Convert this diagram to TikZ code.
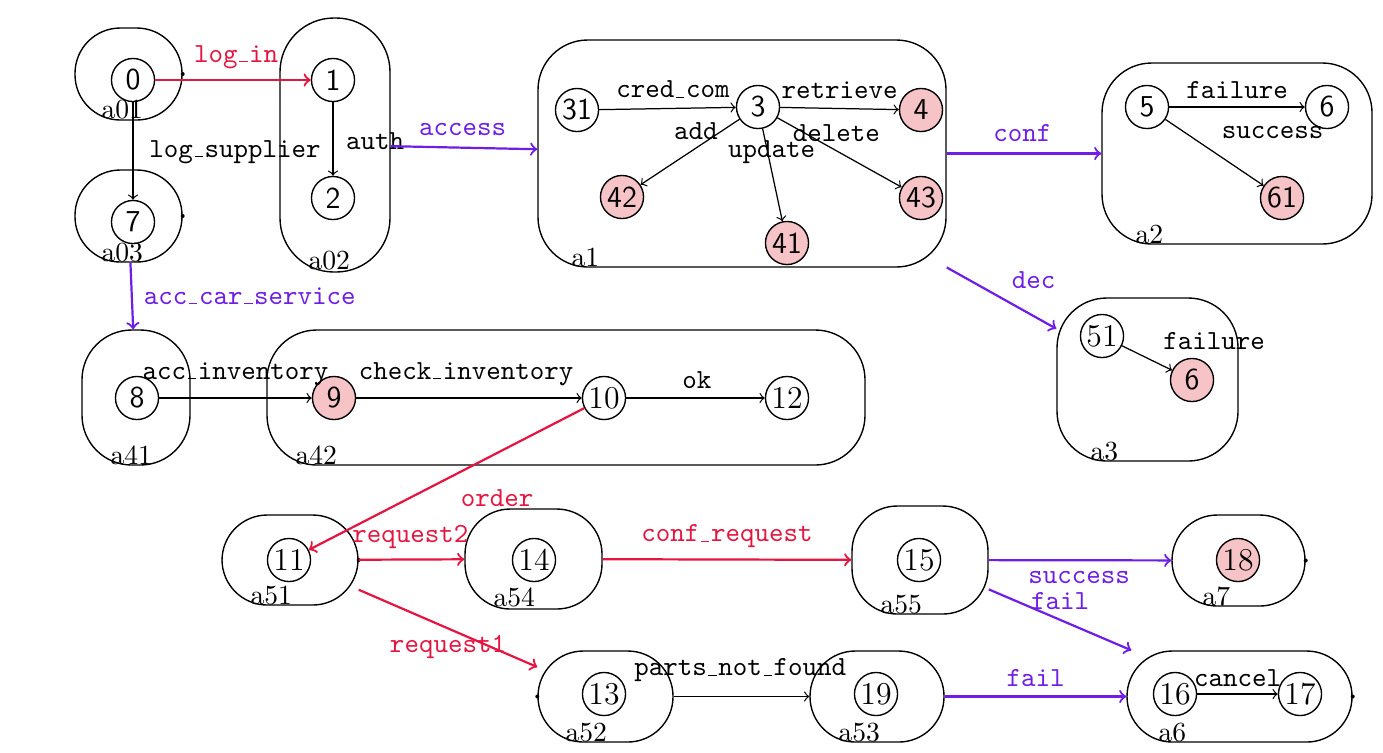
\documentclass[tikz,border=0pt]{standalone}
\usetikzlibrary{fit}
\definecolor{flowred}{RGB}{228,22,65}
\definecolor{flowpurple}{RGB}{110,30,230}
\definecolor{finalfill}{RGB}{246,196,198}
% short baseline rule used as the underscore in transition names
\newcommand\ulbar{\leavevmode\kern.06em\vbox{\hrule width.3em}\kern.06em}
\begin{document}
\begin{tikzpicture}[x=0.362pt,y=-0.362pt,
  st/.style={circle,draw,line width=0.5pt,minimum size=15.6pt,inner sep=0pt,
    font=\sffamily\fontsize{11}{13}\selectfont},
  rst/.style={st,font=\rmfamily\fontsize{11.5}{13}\selectfont},
  fin/.style={st,fill=finalfill},
  rfin/.style={rst,fill=finalfill},
  region/.style={draw,line width=0.5pt,rounded corners=16.4pt,inner sep=0pt},
  bigregion/.style={region,rounded corners=18pt},
  rlabel/.style={anchor=base west,inner sep=0pt,font=\rmfamily},
  elabel/.style={font=\ttfamily,inner sep=0pt},
  tr/.style={->,line width=0.45pt},
  redtr/.style={->,color=flowred,line width=0.8pt},
  purtr/.style={->,color=flowpurple,line width=0.8pt}]

\fill[white] (0,0) rectangle (1383,752);
\useasboundingbox (0,0) rectangle (1383,752);

% regions
\node[region,fit={(75,28) (182,120)}] (a01) {};
\node[region,rounded corners=19.5pt,fit={(280,18) (390,272)}] (a02) {};
\node[region,fit={(75,170) (182,262)}] (a03) {};
\node[bigregion,fit={(538,40) (946,267)}] (a1) {};
\node[bigregion,fit={(1102,63) (1372,244)}] (a2) {};
\node[bigregion,fit={(1057,298) (1238,461)}] (a3) {};
\node[region,rounded corners=18pt,fit={(82,330) (190,465)}] (a41) {};
\node[bigregion,fit={(267,330) (865,465)}] (a42) {};
\node[region,fit={(222,515) (358,605)}] (a51) {};
\node[region,fit={(465,509) (602,609)}] (a54) {};
\node[region,fit={(852,506) (988,614)}] (a55) {};
\node[region,fit={(1172,515) (1305,606)}] (a7) {};
\node[region,fit={(538,651) (673,742)}] (a52) {};
\node[region,fit={(810,651) (944,742)}] (a53) {};
\node[region,fit={(1127,651) (1352,742)}] (a6) {};

% region names
\node[rlabel] (la01) at (101,118) {a01};
\node[rlabel] (la02) at (308,269) {a02};
\node[rlabel] (la03) at (101,261) {a03};
\node[rlabel] (la1) at (571,266) {a1};
\node[rlabel] (la2) at (1135,243) {a2};
\node[rlabel] (la3) at (1090,460) {a3};
\node[rlabel] (la41) at (110,464) {a41};
\node[rlabel] (la42) at (295,464) {a42};
\node[rlabel] (la51) at (250,604) {a51};
\node[rlabel] (la54) at (493,606) {a54};
\node[rlabel] (la55) at (880,613) {a55};
\node[rlabel] (la7) at (1202,605) {a7};
\node[rlabel] (la52) at (565,741) {a52};
\node[rlabel] (la53) at (838,741) {a53};
\node[rlabel] (la6) at (1158,741) {a6};

% small marks on region borders
\foreach \r in {a01,a03,a51,a7,a6}{\fill (\r.east) circle[radius=2];}
\fill (a52.west) circle[radius=2];

% states
\node[st] (s0) at (133,80) {0};
\node[st] (s1) at (333,80) {1};
\node[st] (s2) at (333,198) {2};
\node[st] (s7) at (133,222) {7};
\node[st] (s31) at (577,110) {31};
\node[st] (s3) at (758,107) {3};
\node[fin] (s4) at (921,110) {4};
\node[fin] (s42) at (622,197) {42};
\node[fin] (s41) at (787,243) {41};
\node[fin] (s43) at (921,198) {43};
\node[st] (s5) at (1147,107) {5};
\node[st] (s6) at (1327,107) {6};
\node[fin] (s61) at (1282,198) {61};
\node[rst] (s51) at (1102,336) {51};
\node[fin] (s6b) at (1192,380) {6};
\node[st] (s8) at (137,398) {8};
\node[fin] (s9) at (334,398) {9};
\node[rst] (s10) at (604,398) {10};
\node[rst] (s12) at (787,398) {12};
\node[rst] (s11) at (289,560) {11};
\node[rst] (s14) at (534,560) {14};
\node[rst] (s15) at (919,560) {15};
\node[rfin] (s18) at (1238,560) {18};
\node[rst] (s13) at (604,694) {13};
\node[rst] (s19) at (876,694) {19};
\node[rst] (s16) at (1175,694) {16};
\node[rst] (s17) at (1300,694) {17};

% transitions
\draw[redtr] (s0) -- node[elabel,pos=0.52,shift={(0,-23)}]{log\ulbar in} (s1);
\draw[tr] (s0) -- node[elabel,pos=0.51,shift={(102,0)}]{log\ulbar supplier} (s7);
\draw[tr] (s1) -- node[elabel,pos=0.53,shift={(42,0)}]{auth} (s2);
\draw[purtr] (a02) -- node[elabel,pos=0.49,shift={(0,-18)}]{access} (a1);
\draw[tr] (s31) -- node[elabel,pos=0.54,shift={(0,-19)}]{cred\ulbar com} (s3);
\draw[tr] (s3) -- node[elabel,pos=0.5,shift={(0,-18)}]{retrieve} (s4);
\draw[tr] (s3) -- node[elabel,pos=0.44,shift={(0,-17)}]{add} (s42);
\draw[tr] (s3) -- node[elabel,pos=0.25,shift={(4,0)}]{update} (s41);
\draw[tr] (s3) -- node[elabel,pos=0.45,shift={(3,-16)}]{delete} (s43);
\draw[purtr] (a1) -- node[elabel,pos=0.49,shift={(0,-20)}]{conf} (a2);
\draw[purtr] (a1) -- node[elabel,pos=0.5,shift={(32,-18)}]{dec} (a3);
\draw[tr] (s5) -- node[elabel,pos=0.5,shift={(0,-17)}]{failure} (s6);
\draw[tr] (s5) -- node[elabel,pos=0.5,shift={(58,-20)}]{success} (s61);
\draw[tr] (s51) -- node[elabel,pos=0.5,shift={(67,-17)}]{failure} (s6b);
\draw[purtr] (a03) -- node[elabel,pos=0.5,shift={(118,0)}]{acc\ulbar car\ulbar service} (a41);
\draw[tr] (s8) -- node[elabel,pos=0.5,shift={(0,-24)}]{acc\ulbar inventory} (s9);
\draw[tr] (s9) -- node[elabel,pos=0.487,shift={(0,-24)}]{check\ulbar inventory} (s10);
\draw[tr] (s10) -- node[elabel,pos=0.51,shift={(0,-18)}]{ok} (s12);
\draw[redtr] (s10) -- node[elabel,pos=0.316,shift={(0,45)}]{order} (s11);
\draw[redtr] (a51) -- node[elabel,pos=0.49,shift={(0,-23)}]{request2} (a54);
\draw[redtr] (a51) -- node[elabel,pos=0.5,shift={(0,19)}]{request1} (a52);
\draw[redtr] (a54) -- node[elabel,pos=0.5,shift={(0,-23)}]{conf\ulbar request} (a55);
\draw[purtr] (a55) -- node[elabel,pos=0.495,shift={(0,17)}]{success} (a7);
\draw[purtr] (a55) -- node[elabel,pos=0.5,shift={(0,-19)}]{fail} (a6);
\draw[tr] (a52) -- node[elabel,pos=0.49,shift={(0,-26)}]{parts\ulbar not\ulbar found} (a53);
\draw[purtr] (a53) -- node[elabel,pos=0.5,shift={(0,-18)}]{fail} (a6);
\draw[tr] (s16) -- node[elabel,pos=0.5,shift={(0,-16)}]{cancel} (s17);
\end{tikzpicture}
\end{document}
